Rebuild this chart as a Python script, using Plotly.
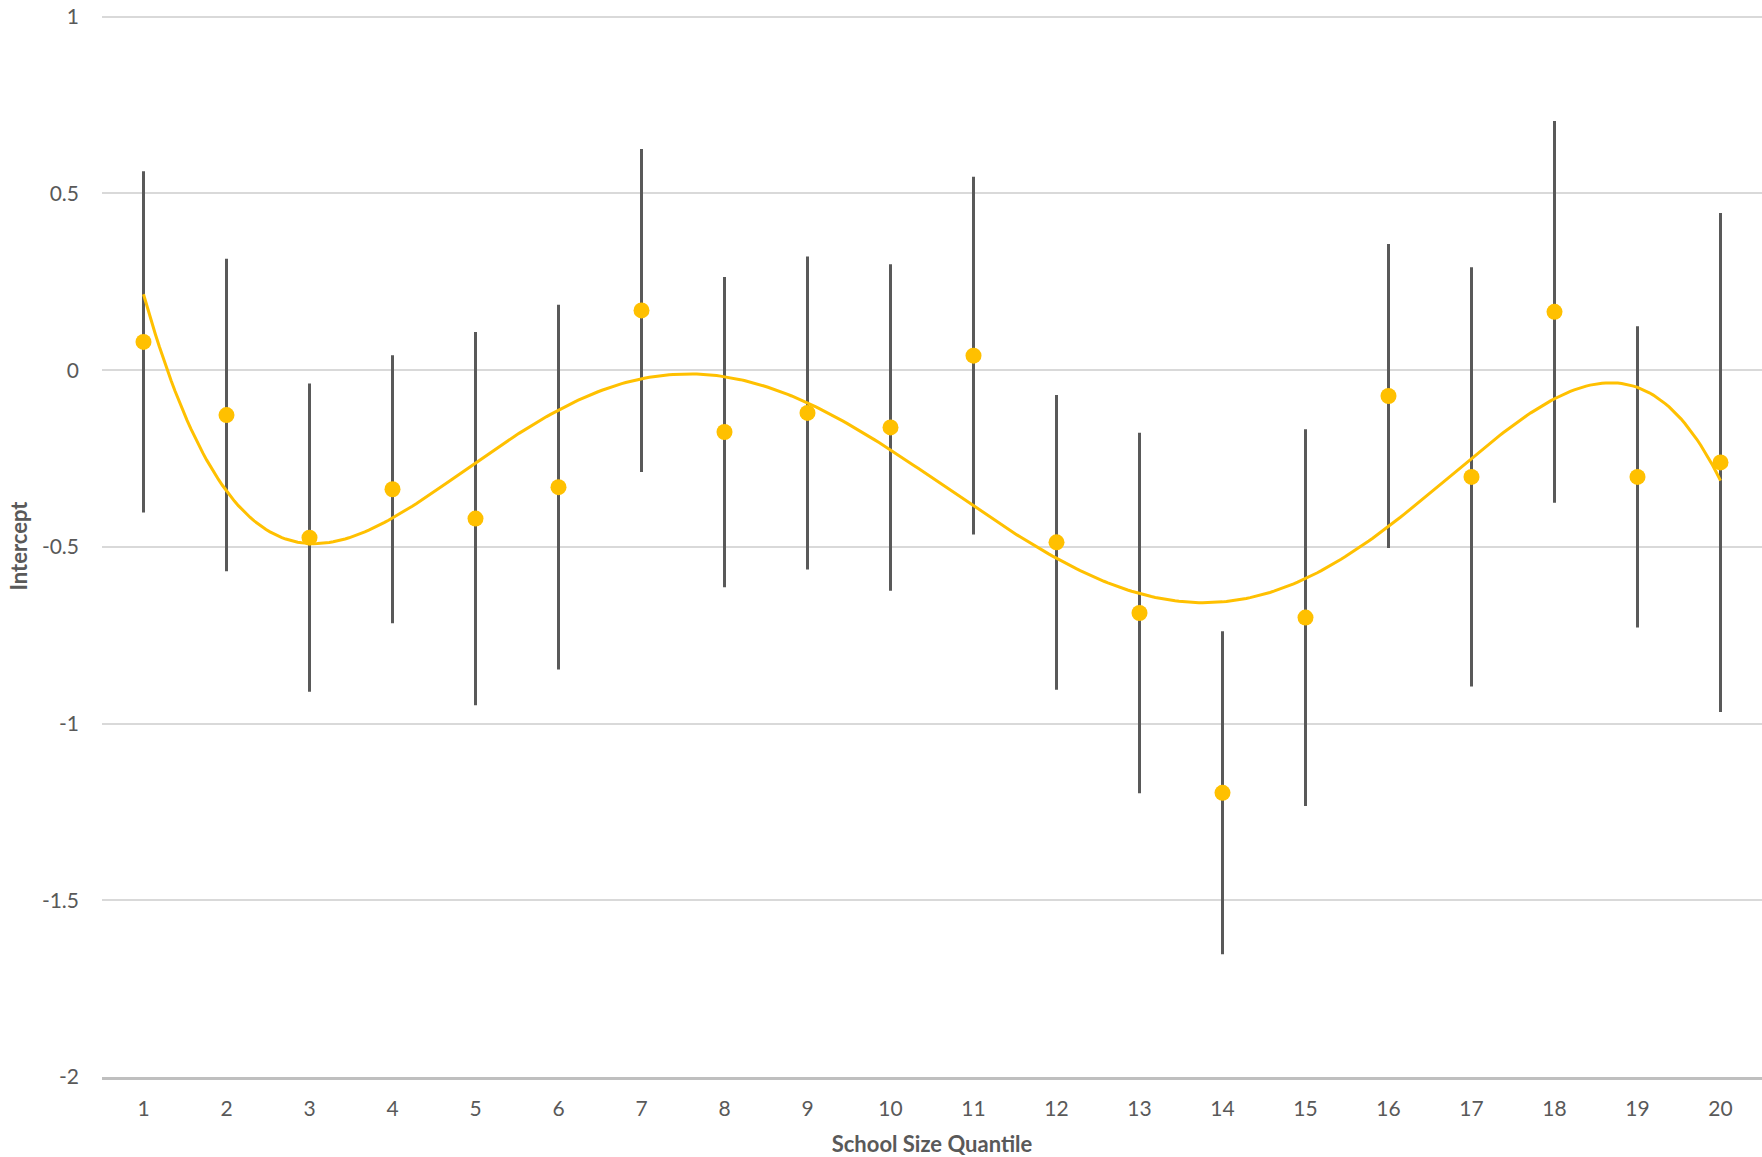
import numpy as np
import plotly.graph_objects as go

quantiles = list(range(1, 21))
intercepts = [0.080, -0.127, -0.474, -0.337, -0.420, -0.331, 0.169, -0.175, -0.121, -0.162,
              0.041, -0.487, -0.687, -1.196, -0.700, -0.073, -0.302, 0.165, -0.302, -0.261]
errors = [0.483, 0.442, 0.436, 0.379, 0.528, 0.516, 0.457, 0.439, 0.443, 0.462,
          0.506, 0.417, 0.510, 0.457, 0.533, 0.430, 0.593, 0.540, 0.426, 0.706]
ytick_vals = [1, 0.5, 0, -0.5, -1, -1.5, -2]
ytick_text = ["1", "0.5", "0", "-0.5", "-1", "-1.5", "-2"]

# polynomial trendline (order 5) fitted to the data
coef = np.polyfit(quantiles, intercepts, 5)
xs = np.linspace(1, 20, 400)
ys = np.polyval(coef, xs)

GOLD = "#FFC000"
GREY = "#595959"
FONT = "Lato, 'Open Sans', sans-serif"

fig = go.Figure()
fig.add_trace(go.Scatter(
    x=quantiles, y=intercepts, mode="markers",
    marker=dict(color=GOLD, size=16),
    error_y=dict(type="data", array=errors, visible=True, color=GREY, thickness=3, width=0),
    showlegend=False, hoverinfo="x+y"))
fig.add_trace(go.Scatter(
    x=xs, y=ys, mode="lines", line=dict(color=GOLD, width=3),
    showlegend=False, hoverinfo="skip"))

fig.update_layout(
    width=1762, height=1157,
    margin=dict(l=102, r=0, t=15, b=80),
    plot_bgcolor="white", paper_bgcolor="white",
    font=dict(family=FONT, color=GREY, size=21),
    xaxis=dict(range=[0.5, 20.5], tickvals=quantiles, ticktext=[str(q) for q in quantiles],
               showgrid=False, zeroline=False, showline=True, linecolor="#BFBFBF", linewidth=3,
               ticks="", ticklabelstandoff=11,
               title=dict(text="<b>School Size Quantile</b>", font=dict(size=22, color=GREY), standoff=18)),
    yaxis=dict(range=[-2, 1.005], tickvals=ytick_vals, ticktext=ytick_text,
               showgrid=True, gridcolor="#D9D9D9", gridwidth=1.5, zeroline=False, showline=False,
               ticks="", ticklabelstandoff=22, ticklabeloverflow="allow",
               title=dict(text="<b>Intercept</b>", font=dict(size=22, color=GREY), standoff=8)),
)
fig.write_html("out.html", config={"displayModeBar": False},
               post_script="document.body.style.margin='0px';")
